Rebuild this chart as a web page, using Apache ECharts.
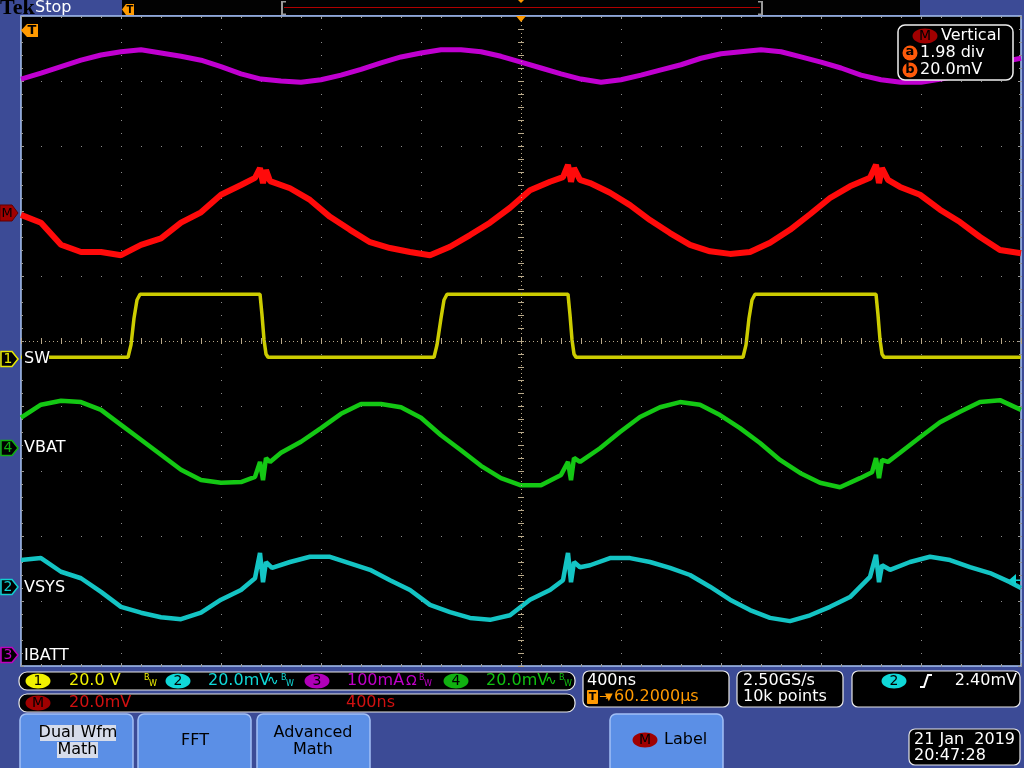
<!DOCTYPE html>
<html><head><meta charset="utf-8">
<script src="https://cdn.jsdelivr.net/npm/echarts@6/dist/echarts.min.js"></script>
<style>html,body{margin:0;padding:0;background:#3c4b96;}#c{width:1024px;height:768px;}</style>
</head><body><div id="c"></div>
<script>
// time in ns (400 ns/div, 0 = screen centre); values in screen divisions (0 = centre)
const ibattTrace = [[-2000,4.03],[-1920,4.12],[-1840,4.22],[-1760,4.32],[-1680,4.40],[-1600,4.45],[-1520,4.48],[-1440,4.43],[-1360,4.38],[-1280,4.32],[-1200,4.22],[-1120,4.11],[-1040,4.03],[-960,4.00],[-880,3.98],[-800,4.02],[-720,4.09],[-640,4.18],[-560,4.28],[-480,4.37],[-400,4.43],[-320,4.48],[-240,4.48],[-160,4.45],[-80,4.38],[0,4.29],[80,4.20],[160,4.11],[240,4.03],[320,3.98],[400,4.02],[480,4.09],[560,4.17],[640,4.25],[720,4.35],[800,4.42],[880,4.45],[960,4.48],[1040,4.45],[1120,4.37],[1200,4.29],[1280,4.20],[1360,4.09],[1440,4.02],[1520,3.98],[1600,3.98],[1680,4.03],[1760,4.09],[1840,4.18],[1920,4.29],[2000,4.35]];
const mathTrace = [[-2000,1.94],[-1920,1.82],[-1840,1.48],[-1760,1.37],[-1680,1.37],[-1600,1.32],[-1520,1.48],[-1440,1.58],[-1360,1.82],[-1280,1.98],[-1200,2.25],[-1120,2.40],[-1064,2.51],[-1044,2.66],[-1032,2.43],[-1020,2.63],[-1004,2.46],[-924,2.35],[-844,2.17],[-764,1.91],[-684,1.71],[-604,1.52],[-524,1.43],[-444,1.37],[-364,1.32],[-284,1.45],[-204,1.63],[-124,1.82],[-44,2.05],[36,2.32],[116,2.45],[168,2.52],[188,2.71],[200,2.45],[212,2.66],[236,2.48],[276,2.43],[356,2.28],[436,2.09],[516,1.86],[596,1.66],[676,1.48],[756,1.38],[836,1.34],[916,1.37],[996,1.51],[1076,1.71],[1156,1.95],[1236,2.20],[1316,2.38],[1396,2.51],[1420,2.71],[1432,2.43],[1444,2.66],[1468,2.48],[1516,2.37],[1596,2.25],[1676,2.02],[1756,1.83],[1836,1.60],[1916,1.40],[2000,1.35]];
const swTrace = [[-2000,-0.25],[-1572,-0.25],[-1560,-0.06],[-1548,0.35],[-1536,0.63],[-1524,0.72],[-1044,0.72],[-1036,0.40],[-1028,0.02],[-1020,-0.20],[-1012,-0.25],[-348,-0.25],[-336,-0.06],[-320,0.35],[-308,0.63],[-296,0.72],[188,0.72],[196,0.40],[204,0.02],[212,-0.20],[220,-0.25],[888,-0.25],[900,-0.06],[912,0.35],[924,0.63],[936,0.72],[1420,0.72],[1428,0.40],[1436,0.02],[1444,-0.20],[1452,-0.25],[2000,-0.25]];
const vbatTrace = [[-2000,-1.18],[-1920,-0.98],[-1840,-0.92],[-1760,-0.94],[-1680,-1.06],[-1600,-1.29],[-1520,-1.52],[-1440,-1.75],[-1360,-1.98],[-1280,-2.14],[-1200,-2.18],[-1120,-2.17],[-1064,-2.09],[-1044,-1.86],[-1032,-2.14],[-1020,-1.80],[-1004,-1.86],[-960,-1.72],[-880,-1.55],[-800,-1.34],[-720,-1.12],[-640,-0.97],[-560,-0.97],[-480,-1.02],[-400,-1.18],[-320,-1.45],[-240,-1.68],[-160,-1.92],[-80,-2.11],[0,-2.22],[80,-2.22],[160,-2.06],[188,-1.86],[200,-2.14],[212,-1.80],[236,-1.86],[316,-1.65],[396,-1.40],[476,-1.17],[556,-1.02],[636,-0.94],[716,-0.98],[796,-1.14],[876,-1.34],[956,-1.57],[1036,-1.83],[1116,-2.03],[1196,-2.18],[1276,-2.25],[1356,-2.11],[1404,-2.02],[1420,-1.80],[1432,-2.11],[1444,-1.83],[1468,-1.86],[1516,-1.72],[1596,-1.48],[1676,-1.25],[1756,-1.09],[1836,-0.94],[1916,-0.91],[2000,-1.06]];
const vsysTrace = [[-2000,-3.37],[-1920,-3.34],[-1840,-3.55],[-1760,-3.65],[-1680,-3.86],[-1600,-4.09],[-1520,-4.18],[-1440,-4.25],[-1360,-4.28],[-1280,-4.18],[-1200,-3.98],[-1120,-3.83],[-1064,-3.65],[-1044,-3.26],[-1032,-3.71],[-1020,-3.40],[-996,-3.49],[-924,-3.40],[-844,-3.32],[-764,-3.32],[-684,-3.42],[-604,-3.52],[-524,-3.68],[-444,-3.83],[-364,-4.06],[-284,-4.17],[-204,-4.26],[-124,-4.29],[-44,-4.22],[36,-3.98],[116,-3.83],[168,-3.68],[188,-3.26],[200,-3.71],[212,-3.40],[236,-3.48],[276,-3.45],[356,-3.34],[436,-3.34],[516,-3.40],[596,-3.49],[676,-3.60],[756,-3.78],[836,-3.98],[916,-4.14],[996,-4.26],[1076,-4.31],[1156,-4.22],[1236,-4.09],[1316,-3.94],[1396,-3.63],[1420,-3.29],[1432,-3.71],[1444,-3.45],[1476,-3.52],[1556,-3.40],[1636,-3.32],[1716,-3.37],[1796,-3.48],[1876,-3.57],[1956,-3.71],[2000,-3.80]];

const channelLabels = ['SW','VBAT','VSYS','IBATT'];
const statusRow1 = ['20.0 V','20.0mV','100mA','20.0mV'];
const mathStatus = ['20.0mV','400ns'];
const timebase = ['400ns','60.2000µs'];
const acquisition = ['2.50GS/s','10k points'];
const triggerLevel = '2.40mV';
const vertical = ['Vertical','1.98 div','20.0mV'];
const dateStamp = ['21 Jan  2019','20:47:28'];

const FONT = '"DejaVu Sans", sans-serif';
const G = [];
let zc = 100;
function rect(x,y,w,h,fill,stroke,r,lw){G.push({type:'rect',z:zc++,silent:true,shape:{x:x,y:y,width:w,height:h,r:r||0},style:{fill:fill,stroke:stroke||null,lineWidth:lw||1}});}
function poly(pts,fill,stroke,lw){G.push({type:'polygon',z:zc++,silent:true,shape:{points:pts},style:{fill:fill,stroke:stroke||null,lineWidth:lw||1}});}
function pline(pts,stroke,lw){G.push({type:'polyline',z:zc++,silent:true,shape:{points:pts},style:{fill:null,stroke:stroke,lineWidth:lw||1}});}
function ell(cx,cy,rx,ry,fill){G.push({type:'ellipse',z:zc++,silent:true,shape:{cx:cx,cy:cy,rx:rx,ry:ry},style:{fill:fill}});}
function txt(x,y,s,color,size,align,weight,fam){G.push({type:'text',z:zc++,silent:true,x:x,y:y,style:{text:s,fill:color,font:(weight||'normal')+' '+(size||16)+'px '+(fam||FONT),align:align||'left',textAlign:align||'left',verticalAlign:'middle',textVerticalAlign:'middle'}});}
function badge(cx,cy,s,fill,col){ell(cx,cy,12.5,7.5,fill);txt(cx,cy+0.5,s,col||'#000',14,'center');}
function bw(x,y,col){txt(x,y-3,'B',col,8);txt(x+5,y+3,'W',col,8);}

// top bar
txt(0,8,'Tek','#000',22,'left','bold','"Liberation Serif", serif');
txt(35,8,'Stop','#fff',16);
rect(122,0,798,15,'#020202');
poly([[122,9.5],[126,4],[134,4],[134,15],[126,15]],'#ff9a00');
txt(130,10,'T','#000',10,'center','bold');
rect(281,1,2,14,'#9a9a9a'); rect(283,1,3,1.5,'#9a9a9a'); rect(283,13.5,3,1.5,'#9a9a9a');
rect(761,1,2,14,'#9a9a9a'); rect(758,1,3,1.5,'#9a9a9a'); rect(758,13.5,3,1.5,'#9a9a9a');
rect(284,7,476,1,'#b00000');
poly([[516,16],[526,16],[521,22]],'#ff9a00');
poly([[518,0],[524,0],[521,3]],'#ff9a00');

// trigger marker inside plot top-left
poly([[21,30.5],[27,24],[38,24],[38,37],[27,37]],'#ff9a00');
txt(32,31,'T','#000',13,'center','bold');

// left channel markers
poly([[0,205],[12,205],[18,213],[12,221],[0,221]],'#a00000','#600000',1);
txt(7,213.5,'M','#000',13,'center');
[[359,'1','#e8e800'],[448,'4','#10b010'],[587,'2','#10d0d0'],[655,'3','#c000c0']].forEach(function(m){
  poly([[1,m[0]-7.5],[12,m[0]-7.5],[18,m[0]],[12,m[0]+7.5],[1,m[0]+7.5]],'#000',m[2],1.5);
  txt(8,m[0]+0.5,m[1],m[2],14,'center');
});
// channel labels
rect(22,349,27,19,'#000');
txt(24,359,channelLabels[0],'#fff',16);
txt(24,448,channelLabels[1],'#fff',16);
txt(24,588,channelLabels[2],'#fff',16);
txt(24,656,channelLabels[3],'#fff',16);

// trigger level arrow right
poly([[1009,580],[1016,574],[1016,586]],'#10d0d0');
rect(1016,579.5,5,1.5,'#10d0d0');

// vertical readout box
rect(898,25,115,55,'#000','#f0f0f0',7,1.5);
ell(925,36,12.5,7.5,'#a00000'); txt(925,36.5,'M','#000',14,'center');
txt(941,36,vertical[0],'#fff',16);
G.push({type:'circle',z:zc++,silent:true,shape:{cx:910,cy:53,r:7.5},style:{fill:'#ff5a0a'}}); txt(910,52,'a','#000',13,'center','bold');
txt(920,53,vertical[1],'#fff',16);
G.push({type:'circle',z:zc++,silent:true,shape:{cx:910,cy:70,r:7.5},style:{fill:'#ff5a0a'}}); txt(910,69.5,'b','#000',13,'center','bold');
txt(920,70,vertical[2],'#fff',16);

// status row 1
rect(19,672,556,18,'#000','#e8e8e8',8,1.2);
badge(38,681,'1','#f0f000'); txt(69,681,statusRow1[0],'#f0f000',16); bw(144,681,'#f0f000');
badge(178,681,'2','#10d8d8'); txt(208,681,statusRow1[1],'#10d8d8',16); txt(267,681,'∿','#10d8d8',14); bw(281,681,'#10d8d8');
badge(317,681,'3','#b000b8'); txt(347,681,statusRow1[2],'#c000c8',16); txt(406,681,'Ω','#c000c8',14); bw(419,681,'#c000c8');
badge(456,681,'4','#10b010'); txt(486,681,statusRow1[3],'#10c010',16); txt(545,681,'∿','#10c010',14); bw(559,681,'#10c010');
// status row 2
rect(19,694,556,18,'#000','#e8e8e8',8,1.2);
badge(38,703,'M','#a00000'); txt(69,703,mathStatus[0],'#d01010',16); txt(346,703,mathStatus[1],'#d01010',16);
// timebase box
rect(583,671,146,36,'#000','#e8e8e8',6,1.2);
txt(587,681,timebase[0],'#fff',16);
rect(587,690,11,14,'#ff9a00',null,1); txt(592.5,697.5,'T','#000',11,'center','bold');
txt(599,697,'→','#ff9a00',12); txt(605,697,'▼','#ff9a00',10);
txt(614,697,timebase[1],'#ff9a00',16);
// acquisition box
rect(737,671,106,36,'#000','#e8e8e8',6,1.2);
txt(743,681,acquisition[0],'#fff',16); txt(743,697,acquisition[1],'#fff',16);
// trigger box
rect(852,671,168,36,'#000','#e8e8e8',6,1.2);
badge(894,681,'2','#10d8d8');
pline([[920,687],[924,687],[928,675],[932,675]],'#fff',2);
txt(1017,681,triggerLevel,'#fff',16,'right');

// buttons
function button(x,w){rect(x,714,w,60,'#5b8fe6','#a2c0f6',6,1.5);}
button(20,113); button(138,113); button(257,113); button(610,113);
rect(40,725,76,16,'#d6dcea'); txt(78,733,'Dual Wfm','#000',16,'center');
rect(57,742,41,16,'#d6dcea'); txt(77.5,750,'Math','#000',16,'center');
txt(195,741,'FFT','#000',16,'center');
txt(313,733,'Advanced','#000',16,'center'); txt(313,750,'Math','#000',16,'center');
badge(645,740,'M','#a00000'); txt(664,740,'Label','#000',16);
// date box
rect(909,729,111,36,'#000','#e8e8e8',6,1.2);
txt(914,740,dateStamp[0],'#fff',16); txt(914,756,dateStamp[1],'#fff',16);

function trace(data,color,width){return {type:'line',data:data,xAxisIndex:0,yAxisIndex:0,showSymbol:false,symbol:'none',clip:true,silent:true,z:3,animation:false,lineStyle:{color:color,width:width,join:'bevel'}};}
const tickEdge = {color:'#9a9a9a',width:1};
const tickCtr = {color:'#b8a888',width:1};
function xa(extra){return Object.assign({type:'value',min:-2000,max:2000,interval:400,axisLabel:{show:false},splitLine:{show:false}},extra);}
function ya(extra){return Object.assign({type:'value',min:-5,max:5,interval:1,axisLabel:{show:false},splitLine:{show:false}},extra);}

const option = {
  backgroundColor:'#3c4b96',
  animation:false,
  grid:{left:21,top:16,width:1000,height:650,show:true,backgroundColor:'#000',borderColor:'#a8c4f4',borderWidth:1.5,containLabel:false,outerBoundsMode:'none'},
  xAxis:[
    xa({position:'bottom',axisLine:{show:false,onZero:false},axisTick:{show:true,inside:true,length:3,lineStyle:tickEdge},minorTick:{show:true,splitNumber:5,length:2,lineStyle:tickEdge},splitLine:{show:true,lineStyle:{color:'#8c8c8c',width:1,type:[1,12]}}}),
    xa({position:'top',axisLine:{show:false,onZero:false},axisTick:{show:true,inside:true,length:3,lineStyle:tickEdge},minorTick:{show:true,splitNumber:5,length:2,lineStyle:tickEdge}}),
    xa({position:'bottom',offset:-325,axisLine:{show:false,onZero:false},axisTick:{show:true,inside:false,length:3,lineStyle:tickCtr},minorTick:{show:true,splitNumber:5,length:3,lineStyle:tickCtr}}),
    xa({position:'bottom',offset:-325,axisLine:{show:false,onZero:false},axisTick:{show:true,inside:true,length:3,lineStyle:tickCtr},minorTick:{show:true,splitNumber:5,length:3,lineStyle:tickCtr}})
  ],
  yAxis:[
    ya({position:'left',axisLine:{show:false,onZero:false},axisTick:{show:true,inside:true,length:3,lineStyle:tickEdge},minorTick:{show:true,splitNumber:5,length:2,lineStyle:tickEdge},splitLine:{show:true,lineStyle:{color:'#8c8c8c',width:1,type:[1,19]}}}),
    ya({position:'right',axisLine:{show:false,onZero:false},axisTick:{show:true,inside:true,length:3,lineStyle:tickEdge},minorTick:{show:true,splitNumber:5,length:2,lineStyle:tickEdge}}),
    ya({position:'left',offset:-500,axisLine:{show:false,onZero:false},axisTick:{show:true,inside:false,length:3,lineStyle:tickCtr},minorTick:{show:true,splitNumber:5,length:3,lineStyle:tickCtr}}),
    ya({position:'left',offset:-500,axisLine:{show:false,onZero:false},axisTick:{show:true,inside:true,length:3,lineStyle:tickCtr},minorTick:{show:true,splitNumber:5,length:3,lineStyle:tickCtr}})
  ],
  series:[
    {type:'line',data:[],xAxisIndex:0,yAxisIndex:0,silent:true,z:1,
     markLine:{silent:true,symbol:['none','none'],label:{show:false},animation:false,lineStyle:{color:'#b8a888',width:1,type:[1,3]},data:[{xAxis:0},{yAxis:0}]}},
    trace(ibattTrace,'#c000d0',5),
    trace(mathTrace,'#ff0a0a',6),
    trace(swTrace,'#cccc00',3.5),
    trace(vbatTrace,'#14c814',4.5),
    trace(vsysTrace,'#14c4c4',4.5)
  ],
  graphic:{elements:G}
};
const chart = echarts.init(document.getElementById('c'),null,{renderer:'canvas'});
chart.setOption(option);
</script></body></html>
